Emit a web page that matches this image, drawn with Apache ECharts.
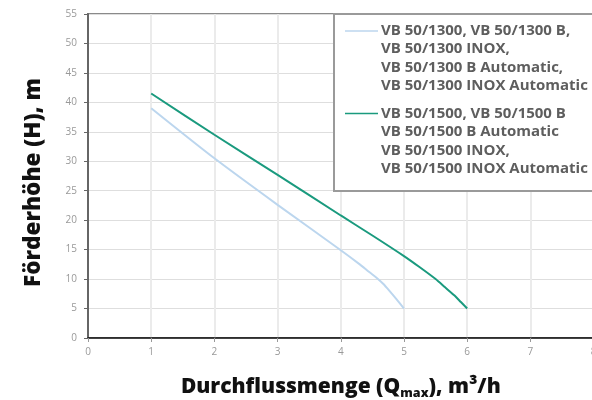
<!DOCTYPE html>
<html><head><meta charset="utf-8">
<script src="https://cdn.jsdelivr.net/npm/echarts@6/dist/echarts.min.js"></script>
<style>html,body{margin:0;padding:0;background:#fff}#c{width:592px;height:400px}</style>
</head><body><div id="c"></div>
<script>
const xTicks = [0,1,2,3,4,5,6,7,8];
const yTicks = [0,5,10,15,20,25,30,35,40,45,50,55];
const q1300 = [1, 2, 3, 4, 4.3, 4.45, 4.57, 4.67, 4.77, 4.88, 5];
const h1300 = [39, 30.5, 22.6, 14.9, 12.5, 11.2, 10.2, 9.2, 8.0, 6.6, 5];
const q1500 = [1, 2, 3, 4, 4.5, 5, 5.25, 5.5, 5.65, 5.8, 5.9, 6];
const h1500 = [41.5, 34.5, 27.7, 20.8, 17.4, 13.9, 12.0, 10.0, 8.6, 7.2, 6.1, 5];
const legend1300 = ['VB 50/1300, VB 50/1300 B,', 'VB 50/1300 INOX,', 'VB 50/1300 B Automatic,', 'VB 50/1300 INOX Automatic'];
const legend1500 = ['VB 50/1500, VB 50/1500 B', 'VB 50/1500 B Automatic', 'VB 50/1500 INOX,', 'VB 50/1500 INOX Automatic'];

const c1300 = '#bcd6ee', c1500 = '#1a9a7e';
const chart = echarts.init(document.getElementById('c'), null, {renderer: 'canvas'});
const lgFont = 'bold 15px "Open Sans"';
chart.setOption({
  animation: false,
  grid: {left: 88, top: 14, width: 505.6, bottom: 62, show: true, borderColor: '#8a8a8a', borderWidth: 2,
         backgroundColor: 'transparent', containLabel: false, outerBoundsMode: 'none'},
  xAxis: {
    type: 'value', min: xTicks[0], max: xTicks[xTicks.length-1], interval: 1,
    axisLine: {show: true, onZero: false, lineStyle: {color: '#111', width: 1.5}},
    axisTick: {show: true, length: 4, lineStyle: {color: '#999'}},
    axisLabel: {color: '#999', fontSize: 10, margin: 9, fontFamily: 'Open Sans'},
    splitLine: {show: true, lineStyle: {color: '#ebebeb', width: 2}},
    name: 'Durchflussmenge (Q{sub|max}), m³/h', nameLocation: 'middle', nameGap: 36,
    nameTextStyle: {color: '#111', fontSize: 21, fontWeight: 800, fontFamily: 'Open Sans',
      rich: {sub: {fontSize: 12.5, fontWeight: 800, fontFamily: 'Open Sans', color: '#111', verticalAlign: 'bottom', padding: [13,0,0,0]}}}
  },
  yAxis: {
    type: 'value', min: yTicks[0], max: yTicks[yTicks.length-1], interval: 5,
    axisLine: {show: true, lineStyle: {color: '#666', width: 2}},
    axisTick: {show: true, length: 4, lineStyle: {color: '#666'}},
    axisLabel: {color: '#999', fontSize: 10, margin: 11, fontFamily: 'Open Sans'},
    splitLine: {show: true, lineStyle: {color: '#dedede', width: 1}},
    name: 'Förderhöhe (H), m', nameLocation: 'middle', nameGap: 43, nameRotate: 90,
    nameTextStyle: {color: '#111', fontSize: 22.5, fontWeight: 800, fontFamily: 'Open Sans', padding: [0, 13, 0, 0]}
  },
  series: [
    {type: 'line', name: 'VB 50/1300', data: q1300.map((q,i)=>[q,h1300[i]]), smooth: 0.25, showSymbol: false,
     lineStyle: {color: c1300, width: 2}, z: 3},
    {type: 'line', name: 'VB 50/1500', data: q1500.map((q,i)=>[q,h1500[i]]), smooth: 0.25, showSymbol: false,
     lineStyle: {color: c1500, width: 2}, z: 4}
  ],
  graphic: [
    {type: 'rect', left: 333, top: 13, z: 10, shape: {width: 270, height: 177},
     style: {fill: '#fff', stroke: '#9a9a9a', lineWidth: 2}},
    {type: 'line', z: 11, shape: {x1: 345, y1: 31, x2: 378, y2: 31}, style: {stroke: c1300, lineWidth: 1.5}},
    {type: 'text', z: 11, left: 381, top: 21, style: {text: legend1300.join('\n'), font: lgFont, fill: '#5e5e5e', lineHeight: 18.6}},
    {type: 'line', z: 11, shape: {x1: 345, y1: 113.5, x2: 378, y2: 113.5}, style: {stroke: c1500, lineWidth: 1.5}},
    {type: 'text', z: 11, left: 381, top: 104, style: {text: legend1500.join('\n'), font: lgFont, fill: '#5e5e5e', lineHeight: 18.6}}
  ]
});
</script></body></html>
